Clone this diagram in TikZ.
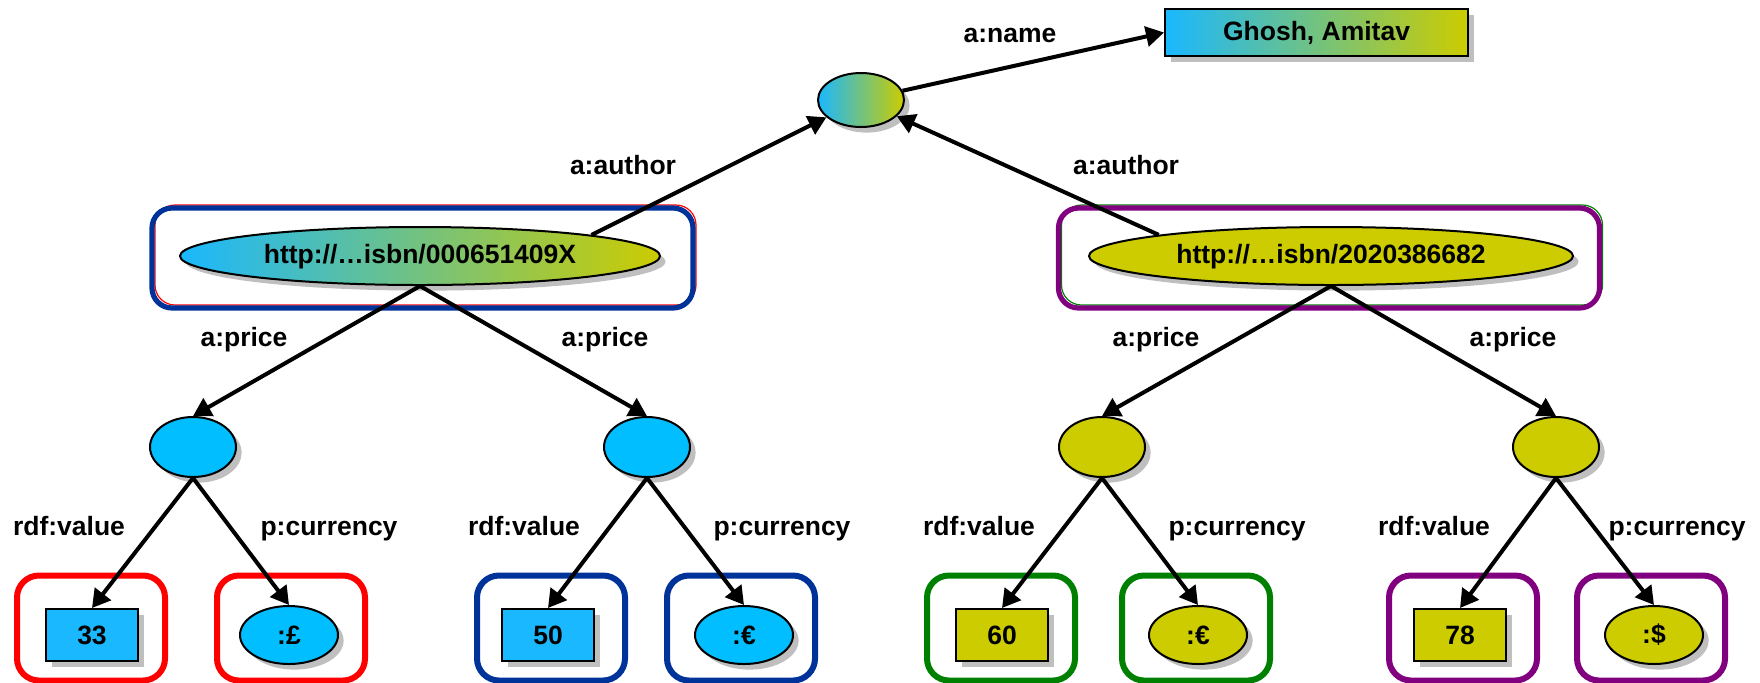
\documentclass[tikz,border=0pt]{standalone}
\usepackage{fontspec}
\setmainfont{Liberation Sans}
\usetikzlibrary{shapes.geometric,arrows.meta,shadows}
\definecolor{skyF}{RGB}{0,190,255}
\definecolor{skyR}{RGB}{26,184,255}
\definecolor{oliveF}{RGB}{204,204,0}
\definecolor{gradMid}{RGB}{148,196,192}
\definecolor{navyB}{RGB}{0,51,153}
\definecolor{plumB}{RGB}{128,0,128}
\definecolor{leafG}{RGB}{0,128,0}
\definecolor{redB}{RGB}{255,0,0}
\begin{document}
\begin{tikzpicture}[x=0.5pt,y=-0.5pt,
  every node/.style={font=\fontsize{13.25pt}{15pt}\selectfont\bfseries, inner sep=0pt},
  shad/.style={drop shadow={shadow xshift=2.8pt,shadow yshift=-2.8pt,fill=black!25,opacity=1}},
  outline/.style={draw=black,line width=1pt},
  gradfill/.style={left color=skyR,middle color=gradMid,right color=oliveF},
  blob/.style={ellipse,outline,shad},
  valbox/.style={rectangle,outline,shad,minimum width=46pt,minimum height=26pt},
  curblob/.style={blob,minimum width=49pt,minimum height=29pt},
  pricenode/.style={blob,minimum width=43pt,minimum height=30pt},
  leafframe/.style={rectangle,rounded corners=11pt,line width=3pt,minimum width=74pt,minimum height=52.5pt},
  bookframe/.style={rectangle,rounded corners=10pt,minimum width=270.5pt,minimum height=50pt},
  arr/.style={draw=black,line width=2pt,-{Triangle[length=9pt,width=10pt]}},
  lbl/.style={anchor=base}]
\useasboundingbox (0,0) rectangle (1760,682);

% group frames
\node[bookframe,draw=redB,line width=0.6pt] (lrim) at (425.5,255) {};
\node[bookframe,draw=navyB,line width=2.6pt] (lframe) at (422.5,258) {};
\node[bookframe,draw=leafG,line width=0.6pt] (rrim) at (1332,255) {};
\node[bookframe,draw=plumB,line width=2.6pt] (rframe) at (1329,258) {};

\node[leafframe,draw=redB]   (f1) at (91,628) {};
\node[leafframe,draw=redB]   (f2) at (291,628) {};
\node[leafframe,draw=navyB]  (f3) at (551,628) {};
\node[leafframe,draw=navyB]  (f4) at (741,628) {};
\node[leafframe,draw=leafG]  (f5) at (1001,628) {};
\node[leafframe,draw=leafG]  (f6) at (1196,628) {};
\node[leafframe,draw=plumB]  (f7) at (1463,628) {};
\node[leafframe,draw=plumB]  (f8) at (1651,628) {};

% resources
\node[rectangle,outline,shad,gradfill,minimum width=151.5pt,minimum height=23.5pt] (ghosh) at (1316.5,32.5) {Ghosh, Amitav};
\node[blob,gradfill,minimum width=43pt,minimum height=27pt] (top) at (861,100) {};
\node[blob,gradfill,minimum width=240pt,minimum height=29pt,text height=0.72em,text depth=0pt] (lbook) at (420,256) {http://…isbn/000651409X};
\node[blob,fill=oliveF,minimum width=242pt,minimum height=29pt,text height=0.72em,text depth=0pt] (rbook) at (1331,256) {http://…isbn/2020386682};

\node[pricenode,fill=skyF]   (p1) at (193,447) {};
\node[pricenode,fill=skyF]   (p2) at (647,447) {};
\node[pricenode,fill=oliveF] (p3) at (1102,447) {};
\node[pricenode,fill=oliveF] (p4) at (1556,447) {};

\node[valbox,fill=skyR]   (v1) at (92,635) {33};
\node[valbox,fill=skyR]   (v2) at (548,635) {50};
\node[valbox,fill=oliveF] (v3) at (1002,635) {60};
\node[valbox,fill=oliveF] (v4) at (1460,635) {78};

\node[curblob,fill=skyF]   (c1) at (289,635) {:£};
\node[curblob,fill=skyF]   (c2) at (744,635) {:€};
\node[curblob,fill=oliveF] (c3) at (1198,635) {:€};
\node[curblob,fill=oliveF] (c4) at (1654,635) {:\$};

% properties
\draw[arr] (top) -- (ghosh.west);
\draw[arr] (lbook.7) -- (top);
\draw[arr] (rbook.173) -- (top);
\draw[arr] (lbook.south) -- (p1.north);
\draw[arr] (lbook.south) -- (p2.north);
\draw[arr] (rbook.south) -- (p3.north);
\draw[arr] (rbook.south) -- (p4.north);
\draw[arr] (p1.south) -- (v1.north);
\draw[arr] (p1.south) -- (c1.north);
\draw[arr] (p2.south) -- (v2.north);
\draw[arr] (p2.south) -- (c2.north);
\draw[arr] (p3.south) -- (v3.north);
\draw[arr] (p3.south) -- (c3.north);
\draw[arr] (p4.south) -- (v4.north);
\draw[arr] (p4.south) -- (c4.north);

% property names
\node[lbl] (nameL)  at (1010,42) {a:name};
\node[lbl] (authL)  at (623,174) {a:author};
\node[lbl] (authR)  at (1126,174) {a:author};
\node[lbl] (priceA) at (244,346) {a:price};
\node[lbl] (priceB) at (605,346) {a:price};
\node[lbl] (priceC) at (1156,346) {a:price};
\node[lbl] (priceD) at (1513,346) {a:price};
\node[lbl] (valA) at (69,535) {rdf:value};
\node[lbl] (valB) at (524,535) {rdf:value};
\node[lbl] (valC) at (979,535) {rdf:value};
\node[lbl] (valD) at (1434,535) {rdf:value};
\node[lbl] (curA) at (329,535) {p:currency};
\node[lbl] (curB) at (782,535) {p:currency};
\node[lbl] (curC) at (1237,535) {p:currency};
\node[lbl] (curD) at (1677,535) {p:currency};
\end{tikzpicture}
\end{document}
